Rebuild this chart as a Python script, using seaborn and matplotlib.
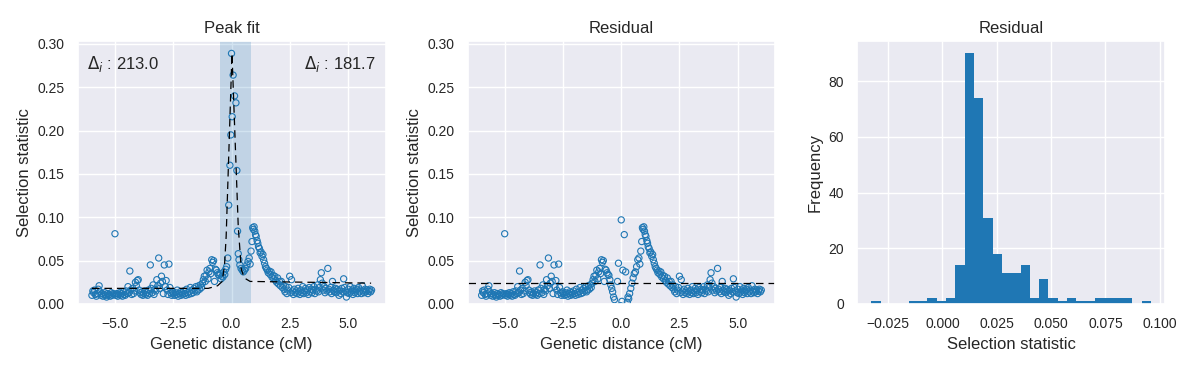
import numpy as np
import pandas as pd
import seaborn as sns
import matplotlib
matplotlib.use("Agg")
import matplotlib.pyplot as plt

# ---- data ----
# left flank (same values in fit panel and residual panel)
left_x = [-6.00, -5.96, -5.93, -5.89, -5.85, -5.81, -5.77, -5.73, -5.69, -5.65,
          -5.61, -5.57, -5.53, -5.49, -5.45, -5.41, -5.37, -5.33, -5.29, -5.25,
          -5.21, -5.17, -5.13, -5.09, -5.05, -5.01, -4.97, -4.93, -4.89, -4.85,
          -4.81, -4.77, -4.73, -4.69, -4.65, -4.61, -4.57, -4.53, -4.49, -4.45,
          -4.41, -4.37, -4.33, -4.29, -4.25, -4.21, -4.17, -4.13, -4.09, -4.05,
          -4.01, -3.97, -3.93, -3.89, -3.85, -3.81, -3.77, -3.73, -3.69, -3.65,
          -3.61, -3.57, -3.53, -3.49, -3.45, -3.41, -3.37, -3.33, -3.29,
          -3.25, -3.21, -3.17, -3.13, -3.09, -3.05, -3.01, -2.97, -2.93, -2.89,
          -2.85, -2.81, -2.77, -2.73, -2.69, -2.65, -2.61, -2.57, -2.53, -2.49,
          -2.45, -2.41, -2.37, -2.33, -2.29, -2.25, -2.21, -2.17, -2.13, -2.09,
          -2.05, -2.01, -1.97, -1.93, -1.89, -1.85, -1.81, -1.77, -1.73, -1.69,
          -1.65, -1.61, -1.57, -1.53, -1.49, -1.45, -1.41, -1.37, -1.33, -1.29,
          -1.25, -1.21, -1.17, -1.13, -1.09, -1.05, -1.01, -0.97, -0.93, -0.89,
          -0.85, -0.81, -0.77, -0.73, -0.69, -0.65, -0.61, -0.57]
left_y = [0.010, 0.015, 0.013, 0.016, 0.011, 0.009, 0.012, 0.017, 0.021, 0.014,
          0.010, 0.012, 0.009, 0.011, 0.013, 0.010, 0.008, 0.012, 0.010, 0.011,
          0.009, 0.013, 0.010, 0.012, 0.011, 0.081, 0.010, 0.012, 0.009, 0.011,
          0.013, 0.010, 0.012, 0.009, 0.014, 0.011, 0.010, 0.015, 0.012, 0.020,
          0.013, 0.038, 0.016, 0.011, 0.018, 0.012, 0.015, 0.025, 0.021, 0.027,
          0.028, 0.016, 0.013, 0.011, 0.014, 0.010, 0.012, 0.015, 0.011, 0.013,
          0.010, 0.016, 0.012, 0.045, 0.018, 0.013, 0.022, 0.011, 0.017,
          0.015, 0.028, 0.021, 0.053, 0.018, 0.024, 0.032, 0.026, 0.012, 0.045,
          0.020, 0.027, 0.016, 0.011, 0.046, 0.019, 0.013, 0.010, 0.014, 0.012,
          0.010, 0.013, 0.011, 0.016, 0.009, 0.012, 0.014, 0.010, 0.013, 0.011,
          0.015, 0.012, 0.010, 0.017, 0.013, 0.011, 0.014, 0.019, 0.012, 0.016,
          0.013, 0.018, 0.015, 0.020, 0.014, 0.016, 0.021, 0.017, 0.022, 0.019,
          0.024, 0.028, 0.032, 0.026, 0.033, 0.039, 0.029, 0.037, 0.041, 0.035,
          0.051, 0.048, 0.050, 0.026, 0.040, 0.039, 0.036, 0.034]

# peak core: data, and residual after removing the fitted peak
core_x = [-0.53, -0.49, -0.45, -0.41, -0.37, -0.33, -0.29, -0.25, -0.21, -0.16,
          -0.12, -0.07, -0.03, 0.00, 0.03, 0.07, 0.13, 0.19, 0.23, 0.26,
          0.29, 0.32, 0.36, 0.41, 0.46, 0.51, 0.56, 0.61, 0.66, 0.71]
core_y = [0.033, 0.035, 0.029, 0.032, 0.031, 0.037, 0.034, 0.040, 0.043, 0.053,
          0.114, 0.160, 0.195, 0.289, 0.216, 0.264, 0.240, 0.232, 0.154, 0.084,
          0.058, 0.051, 0.045, 0.041, 0.039, 0.037, 0.039, 0.041, 0.045, 0.049]
core_resid = [0.033, 0.028, 0.022, 0.018, 0.014, 0.008, 0.005, -0.004, -0.012, 0.026,
              0.047, -0.008, -0.002, 0.097, 0.003, 0.039, 0.080, 0.037, -0.030, 0.002,
              0.008, 0.006, 0.012, 0.018, 0.024, 0.030, 0.035, 0.037, 0.043, 0.051]

# right flank
right_x = [0.76, 0.80, 0.84, 0.88, 0.91, 0.94, 0.97, 1.00, 1.03, 1.06,
           1.10, 1.13, 1.16, 1.20, 1.23, 1.27, 1.31, 1.35, 1.38, 1.42,
           1.46, 1.50, 1.54, 1.58, 1.62, 1.66, 1.70, 1.74, 1.78, 1.82,
           1.86, 1.90, 1.94, 1.98, 2.02, 2.06, 2.10, 2.14, 2.18, 2.22,
           2.26, 2.30, 2.34, 2.38, 2.42, 2.46, 2.50, 2.54, 2.58, 2.62,
           2.66, 2.70, 2.74, 2.78, 2.82, 2.86, 2.90, 2.94, 2.98, 3.02,
           3.06, 3.10, 3.14, 3.18, 3.22, 3.26, 3.30, 3.34, 3.38, 3.42,
           3.46, 3.50, 3.54, 3.58, 3.62, 3.66, 3.70, 3.74, 3.78, 3.82,
           3.86, 3.90, 3.94, 3.98, 4.02, 4.06, 4.10, 4.14, 4.18, 4.22,
           4.26, 4.30, 4.34, 4.38, 4.42, 4.46, 4.50, 4.54, 4.58, 4.62,
           4.66, 4.70, 4.74, 4.78, 4.82, 4.86, 4.90, 4.94, 4.98, 5.02,
           5.06, 5.10, 5.14, 5.18, 5.22, 5.26, 5.30, 5.34, 5.38, 5.42,
           5.46, 5.50, 5.54, 5.58, 5.62, 5.66, 5.70, 5.74, 5.78, 5.82,
           5.86, 5.90, 5.94, 5.98, 6.02]
right_y = [0.053, 0.046, 0.061, 0.072, 0.088, 0.086, 0.089, 0.084, 0.080, 0.078,
           0.073, 0.070, 0.066, 0.064, 0.059, 0.060, 0.055, 0.057, 0.051, 0.047,
           0.043, 0.041, 0.039, 0.036, 0.038, 0.034, 0.037, 0.031, 0.033, 0.029,
           0.032, 0.027, 0.025, 0.030, 0.023, 0.026, 0.021, 0.026, 0.019, 0.022,
           0.017, 0.014, 0.020, 0.012, 0.016, 0.019, 0.032, 0.013, 0.028, 0.015,
           0.011, 0.017, 0.013, 0.015, 0.012, 0.018, 0.014, 0.011, 0.016, 0.013,
           0.020, 0.012, 0.015, 0.018, 0.013, 0.016, 0.011, 0.019, 0.014, 0.017,
           0.013, 0.016, 0.020, 0.012, 0.017, 0.015, 0.022, 0.014, 0.019, 0.028,
           0.036, 0.024, 0.016, 0.020, 0.013, 0.018, 0.015, 0.041, 0.017, 0.014,
           0.019, 0.012, 0.026, 0.016, 0.014, 0.018, 0.013, 0.017, 0.015, 0.010,
           0.016, 0.012, 0.018, 0.014, 0.029, 0.019, 0.015, 0.008, 0.013, 0.017,
           0.012, 0.020, 0.014, 0.016, 0.011, 0.018, 0.013, 0.015, 0.017, 0.012,
           0.019, 0.014, 0.016, 0.012, 0.021, 0.015, 0.013, 0.017, 0.014, 0.016,
           0.012, 0.015, 0.017, 0.014, 0.016]

# fitted peak curve
fit_x = [-6.0, -1.0, -0.6, -0.4, -0.3, -0.23, 0.02, 0.29, 0.42, 0.55, 0.8, 6.0]
fit_y = [0.018, 0.018, 0.021, 0.026, 0.045, 0.078, 0.289, 0.089, 0.040, 0.030, 0.026, 0.024]
resid_level = 0.024

# highlighted window and annotations
window = (-0.48, 0.83)
delta_left = 213.0
delta_right = 181.7

# residual histogram (bin range and counts)
hist_lo, hist_hi = -0.0327, 0.0960
hist_counts = [1, 0, 0, 0, 1, 1, 2, 1, 2, 14,
               90, 74, 31, 18, 11, 11, 14, 2, 9, 2,
               1, 2, 1, 1, 2, 2, 2, 2, 0, 1]

dist_ticks = [-5.0, -2.5, 0.0, 2.5, 5.0]


def main():
    sns.set_theme(style="darkgrid", palette="tab10")
    plt.rcParams['font.family'] = ['Liberation Sans', 'DejaVu Sans']
    plt.rcParams['xtick.labelsize'] = 10
    plt.rcParams['ytick.labelsize'] = 10
    plt.rcParams['axes.labelsize'] = 12
    plt.rcParams['axes.titlesize'] = 12

    df = pd.DataFrame({
        'x': left_x + core_x + right_x,
        'y': left_y + core_y + right_y,
        'resid': left_y + core_resid + right_y,
    })
    fit = pd.DataFrame({'x': fit_x, 'y': fit_y})

    nbins = len(hist_counts)
    width = (hist_hi - hist_lo) / nbins
    hist = pd.DataFrame({
        'center': [hist_lo + (i + 0.5) * width for i in range(nbins)],
        'count': hist_counts,
    })

    fig, axes = plt.subplots(1, 3, figsize=(11.9, 3.68), dpi=100)
    blue = '#1f77b4'

    # Peak fit
    ax = axes[0]
    ax.axvspan(window[0], window[1], color=blue, alpha=0.2, lw=0)
    sns.scatterplot(data=df, x='x', y='y', ax=ax, marker='o', s=20,
                    facecolor='none', edgecolor=blue, linewidth=0.8)
    sns.lineplot(data=fit, x='x', y='y', ax=ax, color='black', lw=0.9,
                 linestyle=(0, (6, 4)), estimator=None, sort=False)
    ax.text(0.03, 0.95, r'$\Delta_i$ : %.1f' % delta_left, transform=ax.transAxes,
            fontsize=12, ha='left', va='top')
    ax.text(0.97, 0.95, r'$\Delta_i$ : %.1f' % delta_right, transform=ax.transAxes,
            fontsize=12, ha='right', va='top')
    ax.set_ylim(0, 0.3035)
    ax.set_xticks(dist_ticks)
    ax.set_title("Peak fit")
    ax.set_xlabel("Genetic distance (cM)")
    ax.set_ylabel("Selection statistic")

    # Residual scatter
    ax = axes[1]
    sns.scatterplot(data=df, x='x', y='resid', ax=ax, marker='o', s=20,
                    facecolor='none', edgecolor=blue, linewidth=0.8)
    ax.axhline(resid_level, color='black', lw=0.9, linestyle=(0, (6, 4)))
    ax.set_ylim(0, 0.3035)
    ax.set_xticks(dist_ticks)
    ax.set_title("Residual")
    ax.set_xlabel("Genetic distance (cM)")
    ax.set_ylabel("Selection statistic")

    # Residual histogram
    ax = axes[2]
    sns.histplot(data=hist, x='center', weights='count', binwidth=width,
                 binrange=(hist_lo, hist_hi), ax=ax,
                 color=blue, alpha=1, linewidth=0)
    ax.set_title("Residual")
    ax.set_xlabel("Selection statistic")
    ax.set_ylabel("Frequency")

    plt.subplots_adjust(left=0.0655, right=0.979, top=0.889, bottom=0.174, wspace=0.267)
    plt.savefig("out.png", dpi=100)


if __name__ == "__main__":
    main()
